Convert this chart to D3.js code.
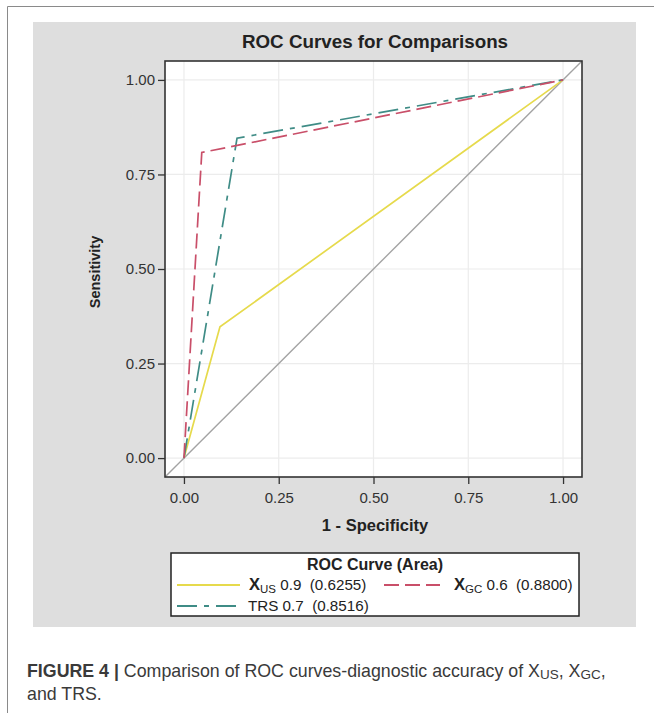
<!DOCTYPE html>
<html>
<head>
<meta charset="utf-8">
<script src="https://cdn.jsdelivr.net/npm/d3@7"></script>
<style>
  body { margin: 0; background: #fff; }
  svg { display: block; font-family: "Liberation Sans", Arial, sans-serif; }
</style>
</head>
<body>
<div class="chart"></div>
<script>
// ROC points (1 - specificity, sensitivity)
var xusFpr = [0, 0.095, 1];
var xusTpr = [0, 0.347, 1];
var xgcFpr = [0, 0.047, 1];
var xgcTpr = [0, 0.808, 1];
var trsFpr = [0, 0.140, 1];
var trsTpr = [0, 0.846, 1];

var tickValues = [0, 0.25, 0.5, 0.75, 1];

var svgWidth = 654, svgHeight = 713;

var svg = d3.select(".chart")
  .append("svg")
    .attr("width", svgWidth)
    .attr("height", svgHeight);

// figure frame (open on the right / bottom, cut off)
svg.append("path")
  .attr("d", "M7.5,720 V6.5 H660")
  .attr("fill", "none")
  .attr("stroke", "#8a8a8a")
  .attr("stroke-width", 1);

// grey panel
svg.append("rect")
  .attr("x", 33).attr("y", 22)
  .attr("width", 603).attr("height", 605)
  .attr("fill", "#dedede");

var margin = {left: 165, top: 61, right: 582, bottom: 477};

var x = d3.scaleLinear().domain([-0.05, 1.05]).range([margin.left, margin.right]);
var y = d3.scaleLinear().domain([-0.05, 1.05]).range([margin.bottom, margin.top]);

// plot area
svg.append("rect")
  .attr("x", margin.left).attr("y", margin.top)
  .attr("width", margin.right - margin.left)
  .attr("height", margin.bottom - margin.top)
  .attr("fill", "#fff");

// gridlines
svg.append("g").selectAll("line.gx")
  .data(tickValues).enter().append("line")
    .attr("x1", function(d){ return x(d); })
    .attr("x2", function(d){ return x(d); })
    .attr("y1", margin.top).attr("y2", margin.bottom)
    .attr("stroke", "#ececec").attr("stroke-width", 1.2);
svg.append("g").selectAll("line.gy")
  .data(tickValues).enter().append("line")
    .attr("y1", function(d){ return y(d); })
    .attr("y2", function(d){ return y(d); })
    .attr("x1", margin.left).attr("x2", margin.right)
    .attr("stroke", "#ececec").attr("stroke-width", 1.2);

// reference diagonal
svg.append("line")
  .attr("x1", x(-0.05)).attr("y1", y(-0.05))
  .attr("x2", x(1.05)).attr("y2", y(1.05))
  .attr("stroke", "#a3a3a3").attr("stroke-width", 1.4);

var line = d3.line()
  .x(function(d){ return x(d[0]); })
  .y(function(d){ return y(d[1]); });

var curves = [
  {name: "US", fpr: xusFpr, tpr: xusTpr, color: "#e6da4c", dash: null},
  {name: "TRS", fpr: trsFpr, tpr: trsTpr, color: "#3f8c86", dash: "20,7,5,7"},
  {name: "GC", fpr: xgcFpr, tpr: xgcTpr, color: "#c94f69", dash: "15,6"}
];

curves.forEach(function(c){
  svg.append("path")
    .datum(d3.zip(c.fpr, c.tpr))
    .attr("d", line)
    .attr("fill", "none")
    .attr("stroke", c.color)
    .attr("stroke-width", 1.7)
    .attr("stroke-dasharray", c.dash);
});

// frame
svg.append("rect")
  .attr("x", margin.left).attr("y", margin.top)
  .attr("width", margin.right - margin.left)
  .attr("height", margin.bottom - margin.top)
  .attr("fill", "none")
  .attr("stroke", "#333").attr("stroke-width", 1.6);

// axes
var xAxis = d3.axisBottom(x).tickValues(tickValues).tickFormat(d3.format(".2f")).tickSize(7).tickSizeOuter(0);
var yAxis = d3.axisLeft(y).tickValues(tickValues).tickFormat(d3.format(".2f")).tickSize(7).tickSizeOuter(0);

var gx = svg.append("g").attr("transform", "translate(0," + margin.bottom + ")").call(xAxis);
var gy = svg.append("g").attr("transform", "translate(" + margin.left + ",0)").call(yAxis);

[gx, gy].forEach(function(g){
  g.attr("font-family", "Liberation Sans, Arial, sans-serif").attr("font-size", 15);
  g.select(".domain").remove();
  g.selectAll(".tick line").attr("stroke", "#333").attr("stroke-width", 1.3);
  g.selectAll(".tick text").attr("fill", "#333");
});
gx.selectAll(".tick text").attr("dy", "1.05em");
gy.selectAll(".tick text").attr("x", -10);

// titles
svg.append("text")
  .attr("x", 375).attr("y", 48)
  .attr("text-anchor", "middle")
  .attr("font-weight", "bold").attr("font-size", 18.8)
  .attr("fill", "#222")
  .text("ROC Curves for Comparisons");

svg.append("text")
  .attr("x", 375).attr("y", 531)
  .attr("text-anchor", "middle")
  .attr("font-weight", "bold").attr("font-size", 16.5)
  .attr("fill", "#222")
  .text("1 - Specificity");

svg.append("text")
  .attr("transform", "translate(100,272) rotate(-90)")
  .attr("text-anchor", "middle")
  .attr("font-weight", "bold").attr("font-size", 14.5)
  .attr("fill", "#222")
  .text("Sensitivity");

// legend
var lg = svg.append("g");
lg.append("rect")
  .attr("x", 171).attr("y", 553)
  .attr("width", 408).attr("height", 63)
  .attr("fill", "#fff")
  .attr("stroke", "#222").attr("stroke-width", 1.5);

lg.append("text")
  .attr("x", 375).attr("y", 570)
  .attr("text-anchor", "middle")
  .attr("font-weight", "bold").attr("font-size", 16)
  .attr("fill", "#222")
  .text("ROC Curve (Area)");

var legendItems = [
  {c: curves[0], x1: 177, x2: 240, ly: 585, tx: 249, ty: 590, pre: "X", sub: "US", rest: " 0.9  (0.6255)"},
  {c: curves[2], x1: 384, x2: 440, ly: 585, tx: 454, ty: 590, pre: "X", sub: "GC", rest: " 0.6  (0.8800)"},
  {c: curves[1], x1: 177, x2: 240, ly: 606, tx: 248, ty: 611, pre: "", sub: "", rest: "TRS 0.7  (0.8516)"}
];

legendItems.forEach(function(d){
  lg.append("line")
    .attr("x1", d.x1).attr("x2", d.x2)
    .attr("y1", d.ly).attr("y2", d.ly)
    .attr("stroke", d.c.color).attr("stroke-width", 2)
    .attr("stroke-dasharray", d.c.dash);
  var t = lg.append("text")
    .attr("x", d.tx).attr("y", d.ty)
    .attr("font-size", 15.2)
    .attr("fill", "#222")
    .attr("xml:space", "preserve");
  if (d.pre) {
    t.append("tspan").attr("font-weight", "bold").attr("font-size", 16.5).text(d.pre);
    t.append("tspan").attr("font-size", 11.5).attr("dy", 3).text(d.sub);
    t.append("tspan").attr("dy", -3).text(d.rest);
  } else {
    t.append("tspan").text(d.rest);
  }
});

// caption
var cap1 = svg.append("text")
  .attr("x", 27).attr("y", 677)
  .attr("font-size", 17.8)
  .attr("fill", "#3a3a3a");
cap1.append("tspan").attr("font-weight", "bold").text("FIGURE 4 | ");
cap1.append("tspan").text("Comparison of ROC curves-diagnostic accuracy of X");
cap1.append("tspan").attr("font-size", 13.5).attr("dy", 2).text("US");
cap1.append("tspan").attr("dy", -2).text(", X");
cap1.append("tspan").attr("font-size", 13.5).attr("dy", 2).text("GC");
cap1.append("tspan").attr("dy", -2).text(",");

svg.append("text")
  .attr("x", 27).attr("y", 700)
  .attr("font-size", 17.8)
  .attr("fill", "#3a3a3a")
  .text("and TRS.");
</script>
</body>
</html>
